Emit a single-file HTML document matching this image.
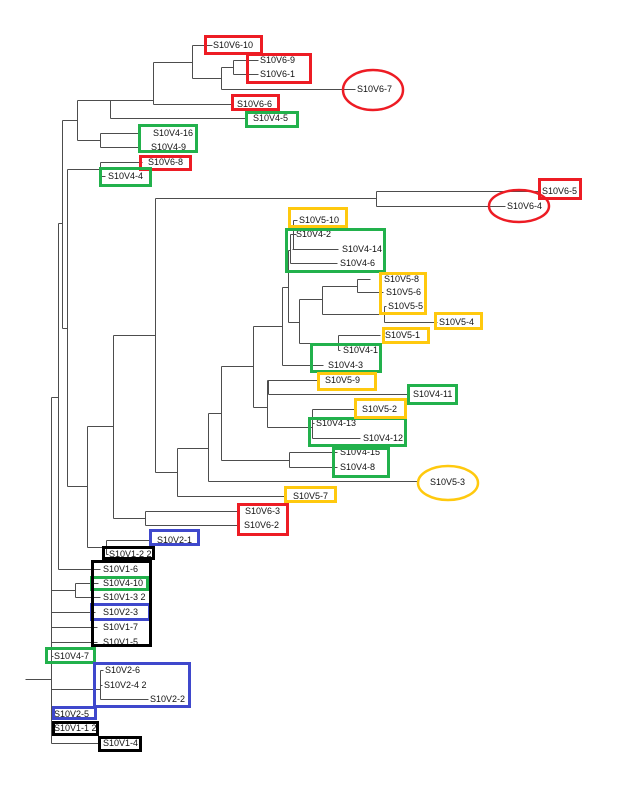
<!DOCTYPE html>
<html><head><meta charset="utf-8"><style>
html,body{margin:0;padding:0;background:#fff;}
svg{display:block;}
text{font-family:"Liberation Sans",sans-serif;font-size:9px;fill:#111;dominant-baseline:central;}
</style></head><body>
<svg width="633" height="790" viewBox="0 0 633 790" xmlns="http://www.w3.org/2000/svg">
<g transform="translate(0.5,0.5)" stroke="#4d4d4d" stroke-width="1" fill="none" shape-rendering="crispEdges">
<path d="
M192 45H212 M192 78H221 M221 67H233 M233 60H258 M233 74H258 M221 89H355
M153 62H192 M153 104H232 M77 100H153 M110 118H245 M77 140H100 M100 133H140 M100 147H140
M62 120H77 M62 328H67 M67 169H100 M100 162H142 M100 176H105 M67 486H87
M58 223H62 M58 569H100 M51 397H58 M87 426H113 M87 547H106 M106 540H150 M106 554H108
M113 335H155 M113 518H145 M145 511H238 M145 525H238 M155 198H376 M155 472H177
M376 191H538 M376 206H505 M177 496H284 M177 448H208 M208 481H417 M208 413H221
M221 460H289 M221 366H253 M289 452H337 M289 467H337 M253 326H282 M253 407H267
M267 380H318 M268 394H407 M267 427H312 M312 409H355 M312 423H314 M312 438H360
M282 365H323 M282 287H288 M288 322H299 M299 299H322 M299 343H338 M322 286H357
M322 314H384 M357 279H370 M357 292H383 M384 306H386 M384 322H437 M338 335H380 M338 350H340
M293 220H297 M292 249H338 M290 234H296 M290 263H337 M288 250H290
M51 590H75 M75 583H98 M75 597H100 M51 612H95 M51 627H97 M51 642H97 M51 656H53
M25 679H51 M51 689H100 M100 670H103 M100 685H102 M100 699H148 M51 714H53 M51 728H53 M51 743H100
M192 45V78 M221 67V89 M233 60V74 M153 62V104 M110 100V118 M77 100V140 M100 133V147
M62 120V328 M100 162V176 M67 169V486 M58 223V569 M51 397V743 M87 426V547 M106 540V554
M113 335V518 M145 511V525 M155 198V472 M376 191V206 M177 448V496 M208 413V481
M221 366V460 M289 452V467 M253 326V407 M267 380V427 M268 380V394 M312 409V438
M282 287V365 M288 250V322 M299 299V343 M322 286V314 M357 279V292 M384 306V322
M338 335V350 M293 220V249 M290 234V263 M75 583V597 M100 670V699
"/>
</g>
<g>
<text x="213" y="45">S10V6-10</text>
<text x="260" y="60">S10V6-9</text>
<text x="260" y="74">S10V6-1</text>
<text x="357" y="89">S10V6-7</text>
<text x="237" y="104">S10V6-6</text>
<text x="253" y="118">S10V4-5</text>
<text x="153" y="133">S10V4-16</text>
<text x="151" y="147">S10V4-9</text>
<text x="148" y="162">S10V6-8</text>
<text x="108" y="176">S10V4-4</text>
<text x="542" y="191">S10V6-5</text>
<text x="507" y="206">S10V6-4</text>
<text x="299" y="220">S10V5-10</text>
<text x="296" y="234">S10V4-2</text>
<text x="342" y="249">S10V4-14</text>
<text x="340" y="263">S10V4-6</text>
<text x="384" y="279">S10V5-8</text>
<text x="386" y="292">S10V5-6</text>
<text x="388" y="306">S10V5-5</text>
<text x="439" y="322">S10V5-4</text>
<text x="385" y="335">S10V5-1</text>
<text x="343" y="350">S10V4-1</text>
<text x="328" y="365">S10V4-3</text>
<text x="325" y="380">S10V5-9</text>
<text x="413" y="394">S10V4-11</text>
<text x="362" y="409">S10V5-2</text>
<text x="316" y="423">S10V4-13</text>
<text x="363" y="438">S10V4-12</text>
<text x="340" y="452">S10V4-15</text>
<text x="340" y="467">S10V4-8</text>
<text x="430" y="482">S10V5-3</text>
<text x="293" y="496">S10V5-7</text>
<text x="245" y="511">S10V6-3</text>
<text x="244" y="525">S10V6-2</text>
<text x="157" y="540">S10V2-1</text>
<text x="109" y="554">S10V1-2 2</text>
<text x="103" y="569">S10V1-6</text>
<text x="103" y="583">S10V4-10</text>
<text x="103" y="597">S10V1-3 2</text>
<text x="103" y="612">S10V2-3</text>
<text x="103" y="627">S10V1-7</text>
<text x="103" y="642">S10V1-5</text>
<text x="54" y="656">S10V4-7</text>
<text x="105" y="670">S10V2-6</text>
<text x="104" y="685">S10V2-4 2</text>
<text x="150" y="699">S10V2-2</text>
<text x="54" y="714">S10V2-5</text>
<text x="54" y="728">S10V1-1 2</text>
<text x="103" y="743">S10V1-4</text>
</g>
<g fill="none" stroke-width="3">
<g stroke="#ED1C24">
<rect x="205.5" y="36.5" width="56" height="17"/>
<rect x="247.5" y="54.5" width="63" height="28"/>
<rect x="232.5" y="95.5" width="46" height="14"/>
<rect x="140.5" y="156.5" width="50" height="13"/>
<rect x="539.5" y="179.5" width="41" height="19"/>
<rect x="238.5" y="504.5" width="49" height="30"/>
<ellipse cx="373" cy="90" rx="30" ry="20" stroke-width="2.5"/>
<ellipse cx="519" cy="206" rx="30" ry="16" stroke-width="2.5"/>
</g>
<g stroke="#22B14C">
<rect x="246.5" y="112.5" width="51" height="14"/>
<rect x="139.5" y="125.5" width="57" height="26"/>
<rect x="100.5" y="168.5" width="50" height="17"/>
<rect x="286.5" y="229.5" width="98" height="42"/>
<rect x="311.5" y="344.5" width="69" height="27"/>
<rect x="408.5" y="385.5" width="48" height="18"/>
<rect x="309.5" y="418.5" width="96" height="27"/>
<rect x="333.5" y="448.5" width="55" height="28"/>
<rect x="91.5" y="577.5" width="56" height="12"/>
<rect x="46.5" y="648.5" width="48" height="14"/>
</g>
<g stroke="#FFC90E">
<rect x="289.5" y="208.5" width="57" height="18"/>
<rect x="380.5" y="273.5" width="45" height="40"/>
<rect x="435.5" y="313.5" width="46" height="15"/>
<rect x="383.5" y="328.5" width="45" height="14"/>
<rect x="318.5" y="373.5" width="57" height="16"/>
<rect x="355.5" y="399.5" width="50" height="18"/>
<rect x="285.5" y="487.5" width="50" height="14"/>
<ellipse cx="448" cy="483" rx="30" ry="17" stroke-width="2.5"/>
</g>
<g stroke="#3F48CC">
<rect x="150.5" y="530.5" width="48" height="14"/>
<rect x="91.5" y="604.5" width="58" height="15"/>
<rect x="94.5" y="663.5" width="95" height="43"/>
<rect x="53.5" y="707.5" width="42" height="11"/>
</g>
<g stroke="#000">
<rect x="103.5" y="547.5" width="50" height="11"/>
<rect x="92.5" y="561.5" width="58" height="84"/>
<rect x="53.5" y="722.5" width="44" height="12"/>
<rect x="99.5" y="737.5" width="41" height="13"/>
</g>
</g>
</svg>
</body></html>
